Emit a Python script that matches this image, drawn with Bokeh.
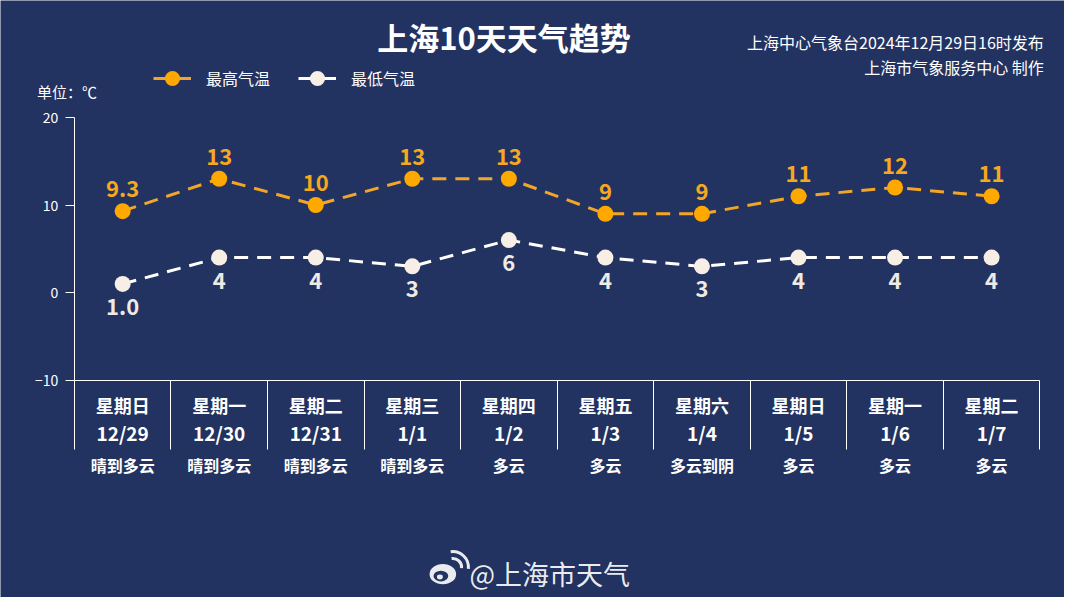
from bokeh.plotting import figure
from bokeh.models import (Range1d, FixedTicker, LinearAxis, LabelSet, Label,
                          ColumnDataSource, Legend, LegendItem)
from bokeh.core.properties import value
from bokeh.embed import file_html
from bokeh.resources import INLINE

# ---------------- data ----------------
days = ["星期日", "星期一", "星期二", "星期三", "星期四",
        "星期五", "星期六", "星期日", "星期一", "星期二"]
dates = ["12/29", "12/30", "12/31", "1/1", "1/2", "1/3", "1/4", "1/5", "1/6", "1/7"]
weather = ["晴到多云", "晴到多云", "晴到多云", "晴到多云", "多云",
           "多云", "多云到阴", "多云", "多云", "多云"]
high = [9.3, 13, 10, 13, 13, 9, 9, 11, 12, 11]
low = [1.0, 4, 4, 3, 6, 4, 3, 4, 4, 4]
high_labels = ["9.3", "13", "10", "13", "13", "9", "9", "11", "12", "11"]
low_labels = ["1.0", "4", "4", "3", "6", "4", "3", "4", "4", "4"]
y_ticks = [-10, 0, 10, 20]
y_min, y_max = -10, 20

# ---------------- style ----------------
BG = "#233361"
ORANGE = "#FFA800"
ORANGE_LINE = "#F2A526"
ORANGE_TXT = "#F7A81E"
CREAM = "#F7EEE5"
LOW_TXT = "#F0EAE4"
FONT = "Noto Sans CJK SC"
W, H = 1064, 597
REF_W, REF_H = 1080, 613
# reference layout: plot area x 75..1055 px, y 120..390 px
N = len(days)
PX_PER_X = (1055 - 75) / N
PX_PER_Y = (390 - 120) / (y_max - y_min)
X_LO = -0.5 - 75 / PX_PER_X
X_HI = -0.5 + (REF_W - 75) / PX_PER_X
Y_HI = y_max + 120 / PX_PER_Y
Y_LO = y_max - (REF_H - 120) / PX_PER_Y


def dx(px):  # reference pixel -> data x
    return -0.5 + (px - 75) / PX_PER_X


def dy(py):  # reference pixel -> data y
    return y_max - (py - 120) / PX_PER_Y


p = figure(width=W, height=H, x_range=Range1d(X_LO, X_HI), y_range=Range1d(Y_LO, Y_HI),
           output_backend="svg", toolbar_location=None, title=None,
           min_border=0, min_border_left=0, min_border_right=0,
           min_border_top=0, min_border_bottom=0,
           background_fill_color=BG, border_fill_color=BG,
           outline_line_color=None, x_axis_type=None, y_axis_type=None)
p.grid.visible = False

# y axis
yaxis = LinearAxis(ticker=FixedTicker(ticks=y_ticks), fixed_location=-0.5,
                   bounds=(y_min, y_max),
                   axis_line_color="white", axis_line_width=1,
                   major_tick_out=9, major_tick_in=0, major_tick_line_color="white",
                   minor_tick_out=0, minor_tick_in=0,
                   major_label_text_color="white", major_label_text_font=FONT,
                   major_label_text_font_size="14px", major_label_standoff=7)
p.add_layout(yaxis, "left")

# x axis with long separator ticks between categories
xs = list(range(N))
seps = [i - 0.5 for i in range(N + 1)]
xaxis = LinearAxis(ticker=FixedTicker(ticks=[], minor_ticks=seps), fixed_location=y_min,
                   bounds=(-0.5, N - 0.5),
                   axis_line_color="white", axis_line_width=1,
                   major_tick_out=0, major_tick_in=0,
                   minor_tick_out=69, minor_tick_in=0, minor_tick_line_color="white",
                   major_label_text_font_size="0px")
p.add_layout(xaxis, "below")

src = ColumnDataSource(dict(
    x=xs, high=high, low=low, hl=high_labels, ll=low_labels,
    hy=[h + 23 / PX_PER_Y for h in high], ly=[v - 23 / PX_PER_Y for v in low],
    day=days, date=dates, wx=weather))

p.line("x", "high", source=src, line_color=ORANGE_LINE, line_width=3, line_dash="14 9")
p.line("x", "low", source=src, line_color="white", line_width=3, line_dash="14 9")
hi_sc = p.scatter("x", "high", source=src, size=16, fill_color=ORANGE, line_color=None)
lo_sc = p.scatter("x", "low", source=src, size=16, fill_color=CREAM, line_color=None)

p.add_layout(LabelSet(x="x", y="hy", text="hl", source=src, text_align="center",
                      text_baseline="middle", text_font=value(FONT), text_font_size="22px",
                      text_font_style="bold", text_color=ORANGE_TXT))
p.add_layout(LabelSet(x="x", y="ly", text="ll", source=src, text_align="center",
                      text_baseline="middle", text_font=value(FONT), text_font_size="22px",
                      text_font_style="bold", text_color=LOW_TXT))

# category labels below the axis
p.add_layout(LabelSet(x="x", y=dy(415), text="day", source=src, text_align="center",
                      text_baseline="middle", text_font=value(FONT), text_font_size="18px",
                      text_font_style="bold", text_color="white"))
p.add_layout(LabelSet(x="x", y=dy(444), text="date", source=src, text_align="center",
                      text_baseline="middle", text_font=value(FONT), text_font_size="19px",
                      text_font_style="bold", text_color="white"))
p.add_layout(LabelSet(x="x", y=dy(477), text="wx", source=src, text_align="center",
                      text_baseline="middle", text_font=value(FONT), text_font_size="16px",
                      text_font_style="bold", text_color="white"))

# legend (solid sample lines, like the reference; these renderers draw nothing)
nan = float("nan")
leg_hi = p.line([nan], [nan], line_color=ORANGE_LINE, line_width=3)
leg_lo = p.line([nan], [nan], line_color="white", line_width=3)
sx, sy = W / REF_W, H / REF_H
legend = Legend(items=[LegendItem(label="最高气温", renderers=[leg_hi, hi_sc]),
                       LegendItem(label="最低气温", renderers=[leg_lo, lo_sc])],
                orientation="horizontal",
                location=(round(155 * sx), round(H - (81 + 20) * sy)),
                glyph_width=38, glyph_height=40, label_standoff=15, spacing=28,
                padding=0, margin=0, border_line_color=None, background_fill_alpha=0,
                label_text_color="white", label_text_font=FONT,
                label_text_font_size="16px", label_height=20)
p.add_layout(legend)

# titles and notes
p.add_layout(Label(x=dx(511), y=dy(37), text="上海10天天气趋势", text_align="center",
                   text_baseline="middle", text_font=FONT, text_font_size="31px",
                   text_font_style="bold", text_color="white"))
p.add_layout(Label(x=dx(1059), y=dy(43), text="上海中心气象台2024年12月29日16时发布",
                   text_align="right", text_baseline="middle", text_font=FONT,
                   text_font_size="16px", text_color="white"))
p.add_layout(Label(x=dx(1059), y=dy(68), text="上海市气象服务中心 制作",
                   text_align="right", text_baseline="middle", text_font=FONT,
                   text_font_size="16px", text_color="white"))
p.add_layout(Label(x=dx(37), y=dy(93), text="单位：℃", text_align="left",
                   text_baseline="middle", text_font=FONT, text_font_size="15px",
                   text_color="white"))

# watermark: weibo-like mark + account name
p.ellipse(x=dx(449), y=dy(589), width=27 / PX_PER_X, height=21 / PX_PER_Y,
          fill_color="white", fill_alpha=0.9, line_color=None)
p.ellipse(x=dx(447), y=dy(591), width=15 / PX_PER_X, height=11 / PX_PER_Y,
          fill_color=BG, line_color=None)
p.ellipse(x=dx(446), y=dy(592), width=6 / PX_PER_X, height=5 / PX_PER_Y,
          fill_color="white", fill_alpha=0.9, line_color=None)
p.arc(x=dx(459), y=dy(582), radius=9 / PX_PER_X, start_angle=-0.1, end_angle=1.7,
      line_color="white", line_alpha=0.9, line_width=3)
p.arc(x=dx(459), y=dy(582), radius=16 / PX_PER_X, start_angle=-0.1, end_angle=1.7,
      line_color="white", line_alpha=0.9, line_width=3)
p.add_layout(Label(x=dx(476), y=dy(588), text="@上海市天气", text_align="left",
                   text_baseline="middle", text_font=FONT, text_font_size="27px",
                   text_color="white", text_alpha=0.92))

open("out.html", "w").write(file_html(p, INLINE))
